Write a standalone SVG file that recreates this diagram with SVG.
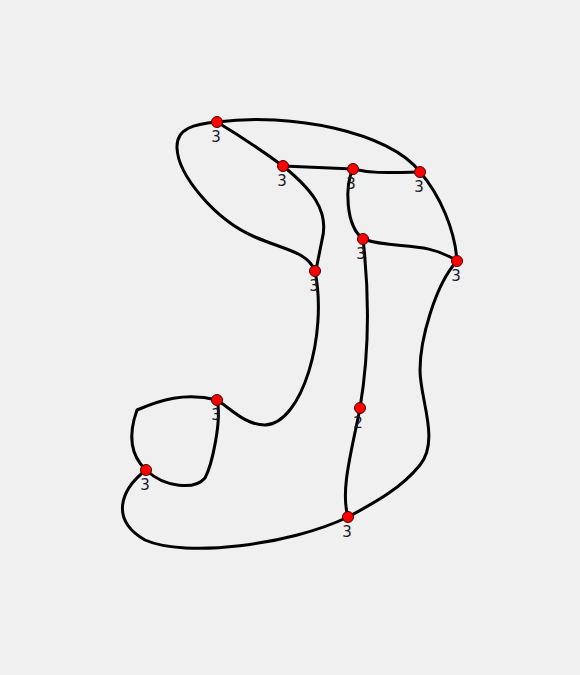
<svg xmlns="http://www.w3.org/2000/svg" width="580" height="675" viewBox="0 0 580 675">
<style>
.e{fill:none;stroke:#000;stroke-width:3;stroke-linecap:round;stroke-linejoin:round}
.n{fill:#f00;stroke:#400;stroke-width:1}
.l{font-family:"DejaVu Sans","Liberation Sans",sans-serif;font-size:15px;fill:#1a1a2a;text-anchor:middle}
</style>
<rect width="580" height="675" fill="#f0f0f0"/>
<g id="edges">
<path class="e" d="M217,122 Q250,142 283,166"/>
<path class="e" d="M217,122 C290,112 390,132 420,172"/>
<path class="e" d="M217,122 C195,124 176,128 177,148 C178,175 215,220 255,237 C285,250 308,252 315,271"/>
<path class="e" d="M283,166 C310,188 330,210 322,240 L316,270"/>
<path class="e" d="M283,166 L353,169"/>
<path class="e" d="M353,169 C370,173 380,173 420,172"/>
<path class="e" d="M353,169 C345,185 345,225 363,239"/>
<path class="e" d="M420,172 C440,195 455,230 457,261"/>
<path class="e" d="M363,239 C395,250 425,240 457,261"/>
<path class="e" d="M363,239 C370,300 368,360 360,408"/>
<path class="e" d="M457,261 C435,285 420,340 420,370 C420,400 440,440 420,465 C400,490 370,505 348,517"/>
<path class="e" d="M360,408 C352,450 340,490 348,517"/>
<path class="e" d="M315,271 C328,335 302,424 265,425 C245,425 230,408 217,400"/>
<path class="e" d="M217,400 C185,392 160,400 137,410 C128,435 130,455 146,470"/>
<path class="e" d="M217,400 C222,420 212,465 205,478 C195,490 165,488 146,470"/>
<path class="e" d="M146,470 C120,490 110,520 145,540 C185,558 290,545 348,517"/>
</g>
<g id="nA"><circle class="n" cx="217" cy="122" r="5.5"/><text class="l" x="216" y="142">3</text></g>
<g id="nB"><circle class="n" cx="283" cy="166" r="5.5"/><text class="l" x="282" y="186">3</text></g>
<g id="nC"><circle class="n" cx="353" cy="169" r="5.5"/><text class="l" x="351" y="189">3</text></g>
<g id="nD"><circle class="n" cx="420" cy="172" r="5.5"/><text class="l" x="419" y="192">3</text></g>
<g id="nE"><circle class="n" cx="363" cy="239" r="5.5"/><text class="l" x="361" y="259">3</text></g>
<g id="nF"><circle class="n" cx="457" cy="261" r="5.5"/><text class="l" x="456" y="281">3</text></g>
<g id="nG"><circle class="n" cx="315" cy="271" r="5.5"/><text class="l" x="314" y="291">3</text></g>
<g id="nH"><circle class="n" cx="217" cy="400" r="5.5"/><text class="l" x="216" y="420">3</text></g>
<g id="nI"><circle class="n" cx="360" cy="408" r="5.5"/><text class="l" x="358" y="428">2</text></g>
<g id="nJ"><circle class="n" cx="146" cy="470" r="5.5"/><text class="l" x="145" y="490">3</text></g>
<g id="nK"><circle class="n" cx="348" cy="517" r="5.5"/><text class="l" x="347" y="537">3</text></g>
</svg>
